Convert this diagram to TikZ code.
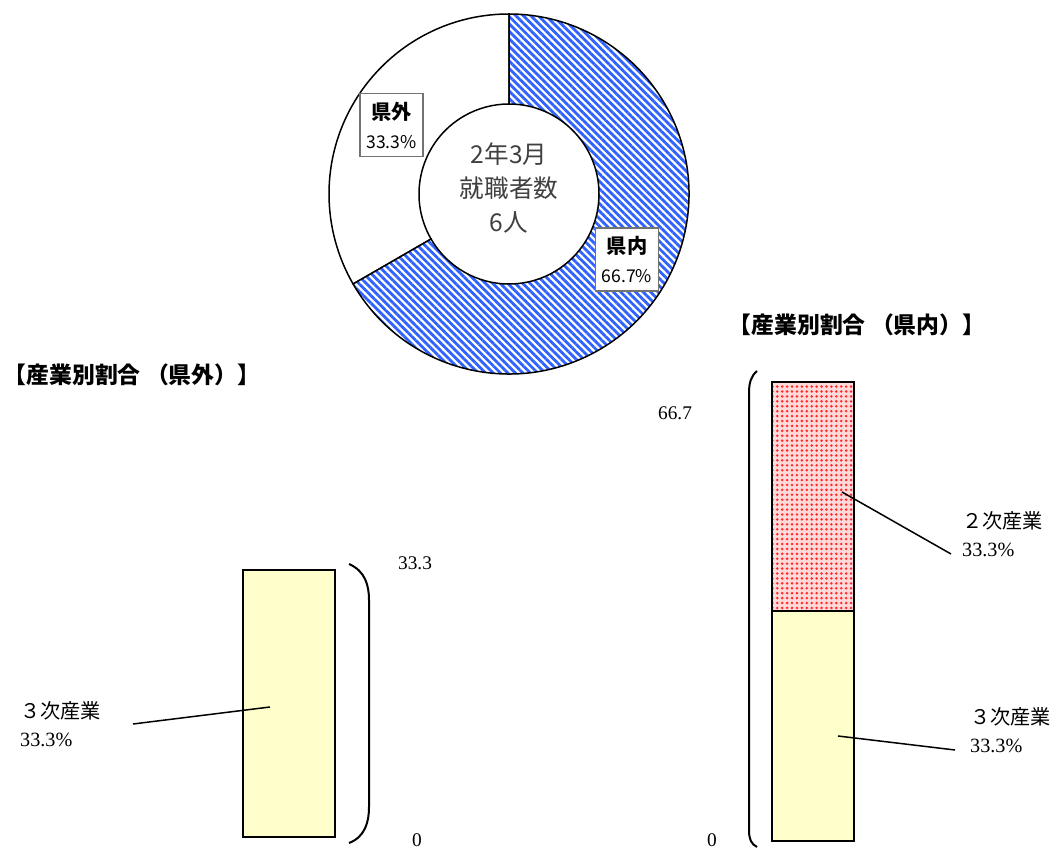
\documentclass[tikz,border=0pt]{standalone}
\usepackage{fontspec}
\setmainfont{Liberation Serif}
\newfontfamily\jp{Noto Sans CJK JP}
\usepackage{tikz}
\usetikzlibrary{calc,patterns.meta}
\definecolor{stripeblue}{HTML}{2F62FF}
\definecolor{baryellow}{HTML}{FFFFCC}
\definecolor{dotred}{HTML}{FF2B2B}
\definecolor{dotpink}{HTML}{FFDADA}
\def\donutpart(#1)(#2:#3){($(#1)+(#2:180)$) arc[start angle=#2,end angle=#3,radius=180] -- ($(#1)+(#3:90)$) arc[start angle=#3,end angle=#2,radius=90] -- cycle}

\begin{document}
\begin{tikzpicture}[x=0.02cm,y=0.02cm,
	outline/.style={line width=0.3mm},
	leader/.style={line width=0.3mm},
	brace/.style={line width=0.4mm},
	pctbox/.style={draw=black!55,line width=0.3mm,fill=white,align=center,inner sep=1pt,
		minimum width=35.7pt,minimum height=36pt,font=\jp\fontsize{10}{16.5}\selectfont},
	title/.style={font=\jp\bfseries\fontsize{13}{15}\selectfont},
	catlabel/.style={anchor=west,align=left,font=\fontsize{11.5}{16}\selectfont},
	axis/.style={font=\fontsize{11}{13}\selectfont}]
		%%%%% START %%%%%
		
		\useasboundingbox (0, 0) rectangle (1061, 849);
		\coordinate (c) at (509, 655);
		
		% donut
		\draw[outline, fill=white] \donutpart(c)(90:210);
		\draw[outline, preaction={fill=white}, pattern={Lines[angle=-45,distance=3pt,line width=1.6pt]}, pattern color=stripeblue] \donutpart(c)(210:450);
		
		\node[text=black!75, align=center, font=\jp\fontsize{14}{19.3}\selectfont] (total) at (509, 661) {2年3月\\就職者数\\6人};
		\node[pctbox] (out) at (391.5, 724) {{\bfseries\fontsize{11.5}{16.5}\selectfont 県外}\\33.3\%};
		\node[pctbox] (in) at (627, 589.5) {{\bfseries\fontsize{11.5}{16.5}\selectfont 県内}\\66.7\%};
		
		% titles
		\node[title] (titleout) at (132, 474) {【産業別割合 （県外）】};
		\node[title] (titlein) at (857, 524) {【産業別割合 （県内）】};
		
		% left bar
		\draw[outline, fill=baryellow] (243, 12) rectangle (335, 279);
		\draw[brace] (349, 285) .. controls (365, 278) and (369, 264) .. (369, 249) -- (369, 42) .. controls (369, 27) and (365, 12) .. (349, 6);
		\node[axis] (topout) at (415, 286) {33.3};
		\node[axis] (zeroout) at (417, 9) {0};
		
		\node[catlabel] (thirdout) at (14, 124.5) {{\jp ３次産業}\\33.3\%};
		\coordinate (thirdoutend) at (133, 125);
		\coordinate (thirdoutbar) at (270, 142);
		\draw[leader] (thirdoutend) -- (thirdoutbar);
		
		% right bar
		\draw[outline, fill=baryellow] (772, 8) rectangle (854, 238);
		\draw[outline, preaction={fill=dotpink}, pattern={Dots[radius=0.8pt,distance=2.8pt]}, pattern color=dotred] (772, 238) rectangle (854, 467);
		\draw[brace] (757, 478) .. controls (751, 473) and (749, 466) .. (749, 456) -- (749, 19) .. controls (749, 10) and (751, 5) .. (757, 2);
		\node[axis] (topin) at (675, 436) {66.7};
		\node[axis] (zeroin) at (712, 9) {0};
		
		\node[catlabel] (secondin) at (956, 315) {{\jp ２次産業}\\33.3\%};
		\coordinate (secondinend) at (951, 295);
		\coordinate (secondinbar) at (842, 357);
		\draw[leader] (secondinend) -- (secondinbar);
		
		\node[catlabel] (thirdin) at (964, 119) {{\jp ３次産業}\\33.3\%};
		\coordinate (thirdinend) at (955, 99);
		\coordinate (thirdinbar) at (838, 113);
		\draw[leader] (thirdinend) -- (thirdinbar);
		
		%%%%% END %%%%%
	\end{tikzpicture}
\end{document}
